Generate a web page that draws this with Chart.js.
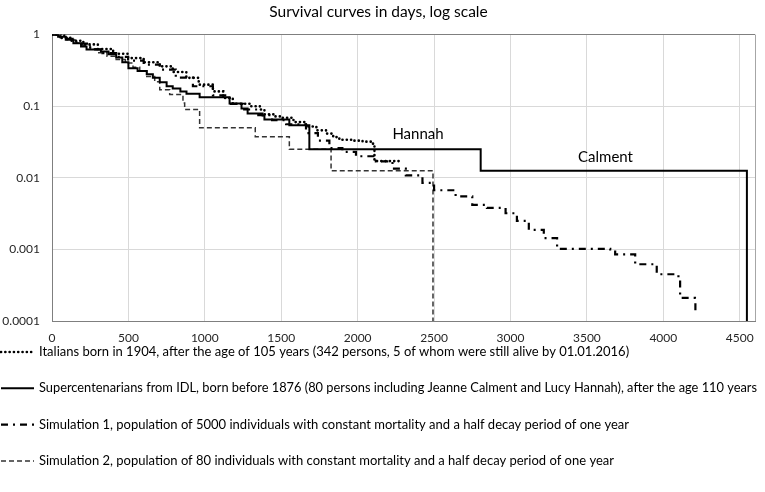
<!DOCTYPE html>
<html>
<head>
<meta charset="utf-8">
<script src="https://cdn.jsdelivr.net/npm/chart.js@4/dist/chart.umd.min.js"></script>
<style>
  html, body { margin: 0; padding: 0; background: #fff; }
  #wrap { width: 765px; height: 492px; }
</style>
</head>
<body>
<div id="wrap"><canvas id="c"></canvas></div>
<script>
// Italians born in 1904 (days after age 105, survival fraction)
const italDays = [0, 60, 120, 205, 300, 400, 498, 600, 705, 790, 879, 960, 1053, 1120, 1183, 1300, 1360, 1390, 1450, 1510, 1580, 1662, 1730, 1793, 1840, 1880, 1960, 2032, 2097, 2110, 2271];
const italSurv = [1, 0.9, 0.82, 0.73, 0.63, 0.54, 0.47, 0.41, 0.36, 0.3, 0.249, 0.2, 0.161, 0.13, 0.108, 0.1, 0.09, 0.077, 0.072, 0.069, 0.06, 0.052, 0.046, 0.0414, 0.037, 0.034, 0.033, 0.032, 0.03, 0.0171, 0.0171];

// Supercentenarians from IDL
const idlDays = [0, 40, 90, 140, 190, 226, 320, 370, 420, 460, 500, 560, 620, 660, 705, 750, 790, 840, 880, 966, 1162, 1240, 1280, 1378, 1390, 1553, 1684, 2805, 4547];
const idlSurv = [1, 0.93, 0.85, 0.76, 0.68, 0.62, 0.58, 0.53, 0.48, 0.41, 0.34, 0.31, 0.28, 0.25, 0.216, 0.19, 0.176, 0.16, 0.149, 0.133, 0.109, 0.093, 0.079, 0.074, 0.065, 0.054, 0.025, 0.0125, 0.0001];

// Simulation 1, 5000 individuals
const sim1Days = [0, 80, 160, 250, 330, 420, 498, 600, 705, 810, 922, 1053, 1162, 1250, 1350, 1440, 1532, 1662, 1740, 1815, 1900, 1989, 2119, 2228, 2315, 2424, 2500, 2641, 2750, 2846, 2968, 3042, 3120, 3218, 3305, 3653, 3685, 3816, 3957, 4099, 4110, 4207, 4210];
const sim1Surv = [1, 0.87, 0.75, 0.62, 0.55, 0.49, 0.434, 0.38, 0.325, 0.25, 0.19, 0.142, 0.108, 0.09, 0.075, 0.064, 0.056, 0.042, 0.033, 0.026, 0.023, 0.02, 0.017, 0.0134, 0.0108, 0.0085, 0.0067, 0.0055, 0.0042, 0.0038, 0.0032, 0.0025, 0.00187, 0.00144, 0.00102, 0.001, 0.00085, 0.00062, 0.00045, 0.0004, 0.00021, 0.00018, 0.00012];

// Simulation 2, 80 individuals
const sim2Days = [0, 50, 100, 150, 200, 250, 300, 360, 420, 480, 530, 574, 620, 672, 705, 770, 857, 868, 966, 1330, 1553, 1826, 2493];
const sim2Surv = [1, 0.91, 0.84, 0.76, 0.7, 0.63, 0.56, 0.5, 0.45, 0.4, 0.35, 0.31, 0.26, 0.22, 0.17, 0.146, 0.111, 0.09, 0.05, 0.0375, 0.025, 0.0125, 0.0001];

const seriesNames = [
  'Italians born in 1904, after the age of 105 years (342 persons, 5 of whom were still alive by 01.01.2016)',
  'Supercentenarians from IDL, born before 1876 (80 persons including Jeanne Calment and Lucy Hannah), after the age 110 years',
  'Simulation 1, population of 5000 individuals with constant mortality and a half decay period of one year',
  'Simulation 2, population of 80 individuals with constant mortality and a half decay period of one year'
];

const xTicks = [0, 500, 1000, 1500, 2000, 2500, 3000, 3500, 4000, 4500, 4600];
const yTicks = [0.0001, 0.001, 0.01, 0.1, 1];
const yTickLabels = ['0.0001', '0.001', '0.01', '0.1', '1'];

const noteText = ['Hannah', 'Calment'];
const noteDays = [2395, 3622];
const noteSurv = [0.0403, 0.0193];

const FONT = 'Lato, "Open Sans", sans-serif';

function pts(days, surv) {
  return days.map((d, i) => ({x: d, y: surv[i]}));
}

// text labels on the plot (Hannah / Calment)
const notes = {
  id: 'notes',
  afterDatasetsDraw(chart) {
    const {ctx, scales: {x, y}} = chart;
    ctx.save();
    ctx.font = '15px ' + FONT;
    ctx.fillStyle = '#000';
    ctx.textAlign = 'center';
    ctx.textBaseline = 'middle';
    noteText.forEach((t, i) => {
      ctx.fillText(t, x.getPixelForValue(noteDays[i]), y.getPixelForValue(noteSurv[i]));
    });
    ctx.restore();
  }
};

// legend: one row per series, sample line + text
const rowLegend = {
  id: 'rowLegend',
  afterDraw(chart) {
    const ctx = chart.ctx;
    chart.data.datasets.forEach((ds, i) => {
      const y = 352 + i * 36.3;
      ctx.save();
      ctx.strokeStyle = ds.borderColor;
      ctx.lineWidth = ds.borderWidth;
      ctx.lineCap = ds.borderCapStyle || 'butt';
      ctx.setLineDash(ds.borderDash || []);
      ctx.beginPath();
      ctx.moveTo(1, y);
      ctx.lineTo(34, y);
      ctx.stroke();
      ctx.setLineDash([]);
      ctx.font = '13px ' + FONT;
      ctx.fillStyle = '#000';
      ctx.textBaseline = 'middle';
      ctx.fillText(ds.label, 39, y, 718);
      ctx.restore();
    });
  }
};

const common = {
  pointRadius: 0,
  pointHoverRadius: 0,
  stepped: true,
  fill: false,
  borderColor: '#000'
};

new Chart(document.getElementById('c'), {
  type: 'line',
  data: {
    datasets: [
      Object.assign({}, common, {
        label: seriesNames[0],
        data: pts(italDays, italSurv),
        borderWidth: 2.6,
        borderDash: [0.1, 4.2],
        borderCapStyle: 'round'
      }),
      Object.assign({}, common, {
        label: seriesNames[1],
        data: pts(idlDays, idlSurv),
        borderWidth: 2
      }),
      Object.assign({}, common, {
        label: seriesNames[2],
        data: pts(sim1Days, sim1Surv),
        borderWidth: 2.2,
        borderDash: [7, 5, 2, 5]
      }),
      Object.assign({}, common, {
        label: seriesNames[3],
        data: pts(sim2Days, sim2Surv),
        borderWidth: 1.5,
        borderColor: '#333',
        borderDash: [5, 3]
      })
    ]
  },
  options: {
    responsive: true,
    maintainAspectRatio: false,
    animation: false,
    layout: { padding: { left: 0, right: 8, top: 0, bottom: 147 } },
    scales: {
      x: {
        type: 'linear',
        min: 0,
        max: 4600,
        afterBuildTicks: s => { s.ticks = xTicks.map(v => ({value: v})); },
        afterFit: s => { s.height = 24; },
        ticks: {
          autoSkip: false,
          maxRotation: 0,
          padding: 10,
          color: '#262626',
          font: { family: FONT, size: 12 },
          callback: v => (v > 4500 ? '' : String(v))
        },
        grid: { drawTicks: false, color: c => (c.tick && c.tick.value > 4500 ? '#a6a6a6' : '#d9d9d9') },
        border: { color: '#7f7f7f', width: 1 }
      },
      y: {
        type: 'logarithmic',
        min: 0.0001,
        max: 1,
        afterBuildTicks: s => { s.ticks = yTicks.map(v => ({value: v})); },
        afterFit: s => { s.width = 52; },
        ticks: {
          autoSkip: false,
          padding: 12,
          color: '#262626',
          font: { family: FONT, size: 12 },
          callback: (v, i) => yTickLabels[i]
        },
        grid: { drawTicks: false, color: c => (c.tick && c.tick.value === 1 ? '#7f7f7f' : '#d9d9d9') },
        border: { color: '#7f7f7f', width: 1 }
      }
    },
    plugins: {
      legend: { display: false },
      tooltip: { enabled: false },
      title: {
        display: true,
        text: 'Survival curves in days, log scale',
        color: '#000',
        font: { family: FONT, size: 15.5, weight: 'normal' },
        padding: { top: 3, bottom: 13 }
      }
    }
  },
  plugins: [notes, rowLegend]
});
</script>
</body>
</html>
